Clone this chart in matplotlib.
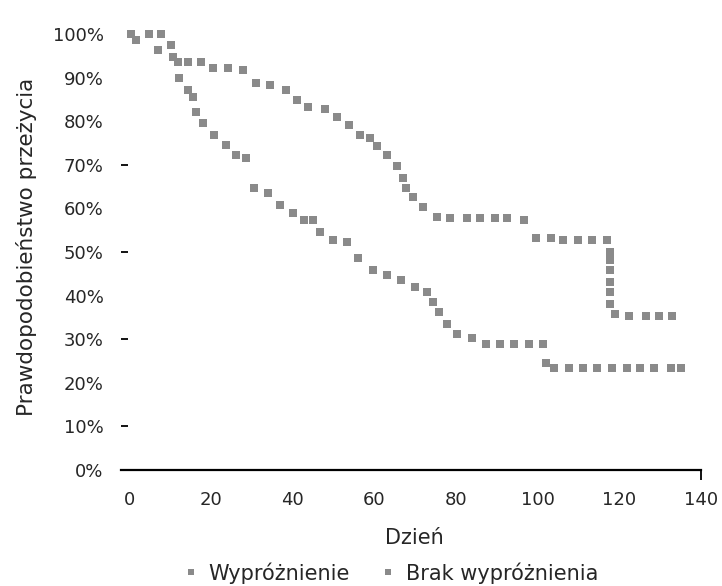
import matplotlib.pyplot as plt
import matplotlib.ticker as mticker

plt.rcParams['font.family'] = ['DejaVu Sans']

# Kaplan-Meier style points (day, survival %)
dni_wyp = [0.5, 4.9, 7.8, 10.2, 12.0, 14.4, 17.6, 20.5, 24.1, 27.8, 31.0, 34.6,
           38.3, 41.2, 43.9, 48.0, 51.0, 53.7, 56.6, 59.0, 60.7, 63.2, 65.6,
           67.1, 67.8, 69.5, 72.0, 75.4, 78.5, 82.7, 85.9, 89.5, 92.4, 96.6,
           99.5, 103.2, 106.3, 110.0, 113.4, 117.1, 117.6, 117.6, 117.8,
           117.6, 117.8, 117.8, 119.0, 122.4, 126.6, 129.8, 133.0]
przez_wyp = [100, 100, 100, 97.5, 93.6, 93.6, 93.6, 92.2, 92.2, 91.7, 88.8, 88.3,
             87.2, 84.9, 83.3, 82.8, 81.0, 79.1, 76.8, 76.1, 74.3, 72.2, 69.7,
             67.0, 64.7, 62.6, 60.3, 58.0, 57.8, 57.8, 57.8, 57.8, 57.8, 57.3,
             53.2, 53.2, 52.8, 52.8, 52.8, 52.8, 50.0, 48.2, 45.9,
             43.1, 40.8, 38.1, 35.8, 35.3, 35.3, 35.3, 35.3]

dni_brak = [1.7, 7.0, 10.7, 12.2, 14.4, 15.6, 16.3, 18.0, 20.7, 23.7, 26.1, 28.5,
            30.5, 33.9, 37.0, 40.2, 42.7, 45.1, 46.8, 50.0, 53.4, 56.1, 59.8,
            63.2, 66.5, 70.0, 72.9, 74.4, 75.9, 77.8, 80.2, 83.9, 87.3, 90.7,
            94.1, 97.8, 101.2, 102.0, 103.9, 107.6, 111.2, 114.6, 118.3, 122.0,
            125.1, 128.5, 132.7, 135.1]
przez_brak = [98.6, 96.3, 94.7, 89.9, 87.2, 85.6, 82.1, 79.6, 76.8, 74.5, 72.2, 71.6,
              64.7, 63.5, 60.8, 58.9, 57.3, 57.3, 54.6, 52.8, 52.3, 48.6, 45.9,
              44.7, 43.5, 42.0, 40.8, 38.5, 36.2, 33.5, 31.2, 30.3, 28.9, 28.9,
              28.9, 28.9, 28.9, 24.5, 23.4, 23.4, 23.4, 23.4, 23.4, 23.4,
              23.4, 23.4, 23.4, 23.4]

x_ticks = [0, 20, 40, 60, 80, 100, 120, 140]
y_ticks = [0, 10, 20, 30, 40, 50, 60, 70, 80, 90, 100]

txt = '#262626'
fig = plt.figure(figsize=(7.22, 5.86), dpi=100)
ax = fig.add_axes([121/722, 1 - 470/586, 580/722, 436/586])

ax.plot(dni_wyp, przez_wyp, 's', color='#8a8a8a', markersize=6, markeredgewidth=0,
        clip_on=False, label='Wypróżnienie')
ax.plot(dni_brak, przez_brak, 's', color='#8a8a8a', markersize=6, markeredgewidth=0,
        clip_on=False, label='Brak wypróżnienia')

ax.set_xlim(-2, 140)
ax.set_ylim(0, 100)
ax.set_xticks(x_ticks)
ax.set_yticks(y_ticks)
ax.yaxis.set_major_formatter(mticker.FuncFormatter(lambda v, p: f'{int(v)}%'))
ax.tick_params(axis='both', length=0, labelsize=13, colors=txt)
ax.tick_params(axis='y', pad=12.5)
ax.tick_params(axis='x', pad=15)

# only a few short ticks are visible in the reference
ax.xaxis.remove_overlapping_locs = False
ax.yaxis.remove_overlapping_locs = False
ax.set_yticks([10, 30, 50, 70], minor=True)
ax.set_xticks([140], minor=True)
ax.tick_params(axis='y', which='minor', length=5, width=1.3, direction='in', color='black')
ax.tick_params(axis='x', which='minor', length=7, width=1.3, direction='out', color='black')

for s in ['top', 'right', 'left']:
    ax.spines[s].set_visible(False)
ax.spines['bottom'].set_linewidth(1.6)

ax.set_ylabel('Prawdopodobieństwo przeżycia', fontsize=15.5, color=txt)
ax.yaxis.set_label_coords(-0.145, 0.511)
ax.set_xlabel('Dzień', fontsize=15, color=txt)
ax.xaxis.set_label_coords(0.505, -0.133)

ax.legend(loc='center', bbox_to_anchor=(0.467, -0.236), ncol=2, frameon=False,
          fontsize=15, labelcolor=txt, handlelength=0.5, handletextpad=0.6,
          columnspacing=1.6, markerscale=0.75)

plt.savefig('out.png', dpi=100)
